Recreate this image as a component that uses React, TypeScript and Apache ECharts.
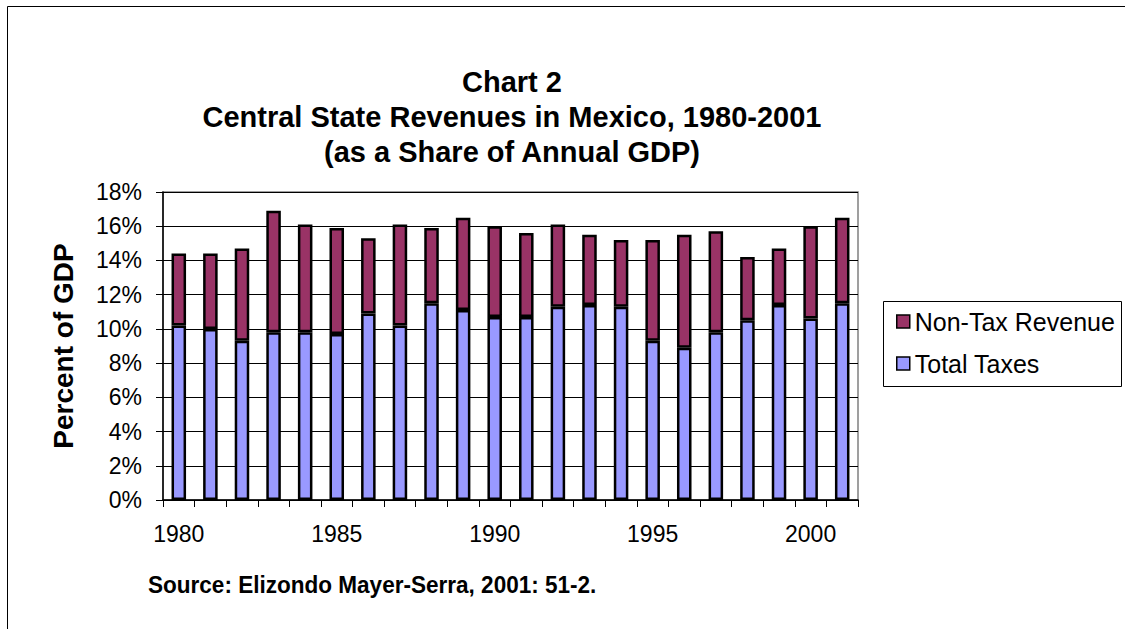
import React, { useEffect, useRef } from "react";
import * as echarts from "echarts";

const years = ["1980","1981","1982","1983","1984","1985","1986","1987","1988","1989","1990","1991","1992","1993","1994","1995","1996","1997","1998","1999","2000","2001"];
const totalTaxes = [10.2, 10.0, 9.3, 9.8, 9.8, 9.7, 10.9, 10.2, 11.5, 11.1, 10.7, 10.7, 11.3, 11.4, 11.3, 9.3, 8.9, 9.8, 10.5, 11.4, 10.6, 11.5];
const totalRevenue = [14.4, 14.4, 14.7, 16.9, 16.1, 15.9, 15.3, 16.1, 15.9, 16.5, 16.0, 15.6, 16.1, 15.5, 15.2, 15.2, 15.5, 15.7, 14.2, 14.7, 16.0, 16.5];
const nonTax = totalRevenue.map((t, i) => Math.round((t - totalTaxes[i]) * 10) / 10);

const titleLines = ["Chart 2", "Central State Revenues in Mexico, 1980-2001", "(as a Share of Annual GDP)"];
const sourceText = "Source: Elizondo Mayer-Serra, 2001: 51-2.";
const FONT = "'Liberation Sans', Arial, sans-serif";

export default function App() {
  const ref = useRef<HTMLDivElement>(null);
  useEffect(() => {
    if (!ref.current) return;
    const chart = echarts.init(ref.current, null, { renderer: "svg" });
    chart.setOption({
      animation: false,
      backgroundColor: "#ffffff",
      textStyle: { fontFamily: FONT },
      graphic: [
        { type: "rect", shape: { x: 7.5, y: 6.5, width: 1200, height: 700 }, style: { fill: "none", stroke: "#000", lineWidth: 1 }, silent: true },
        { type: "rect", shape: { x: 883.5, y: 301.5, width: 238, height: 85 }, style: { fill: "#fff", stroke: "#000", lineWidth: 1 }, z: 0, silent: true },
        ...titleLines.map((t, i) => ({
          type: "text", x: 512, y: 82 + i * 35,
          style: { text: t, fill: "#000", font: `bold 29px ${FONT}`, textAlign: "center", textVerticalAlign: "middle" },
        })),
        { type: "text", x: 148, y: 585, scaleX: 0.98, style: { text: sourceText, fill: "#000", font: `bold 23px ${FONT}`, textAlign: "left", textVerticalAlign: "middle" } },
      ],
      legend: {
        data: ["Non-Tax Revenue", "Total Taxes"],
        orient: "vertical",
        left: 891, top: 304,
        icon: "rect", itemWidth: 13, itemHeight: 13, itemGap: 17,
        textStyle: { fontSize: 25, color: "#000", fontFamily: FONT },
        itemStyle: { borderWidth: 1.5, borderColor: "#000" },
        z: 5,
      },
      grid: { left: 163, right: 267, top: 192, bottom: 129, show: true, borderColor: "#808080", borderWidth: 1.5, backgroundColor: "#fff" },
      xAxis: {
        type: "category", data: years,
        axisLine: { lineStyle: { color: "#000", width: 1.5 } },
        axisTick: { show: true, interval: 0, length: 7, lineStyle: { color: "#000" } },
        axisLabel: { interval: 4, fontSize: 23, color: "#000", margin: 22, fontFamily: FONT },
      },
      yAxis: {
        type: "value", min: 0, max: 18, interval: 2,
        name: "Percent of GDP", nameLocation: "middle", nameGap: 86, nameRotate: 90,
        nameTextStyle: { fontSize: 28, fontWeight: "bold", color: "#000", fontFamily: FONT },
        axisLine: { show: true, lineStyle: { color: "#000", width: 1.5 } },
        axisTick: { show: true, length: 7, lineStyle: { color: "#000" } },
        axisLabel: { formatter: "{value}%", fontSize: 23, color: "#000", margin: 21, fontFamily: FONT },
        splitLine: { lineStyle: { color: "#000", width: 1 } },
      },
      series: [
        { name: "Total Taxes", type: "bar", stack: "rev", data: totalTaxes, barWidth: "46%", itemStyle: { color: "#9999FF", borderColor: "#000", borderWidth: 2.5 } },
        { name: "Non-Tax Revenue", type: "bar", stack: "rev", data: nonTax, barWidth: "46%", itemStyle: { color: "#993366", borderColor: "#000", borderWidth: 2.5 } },
      ],
    });
    return () => chart.dispose();
  }, []);
  return <div ref={ref} style={{ position: "fixed", left: 0, top: 0, width: 1125, height: 629 }} />;
}
